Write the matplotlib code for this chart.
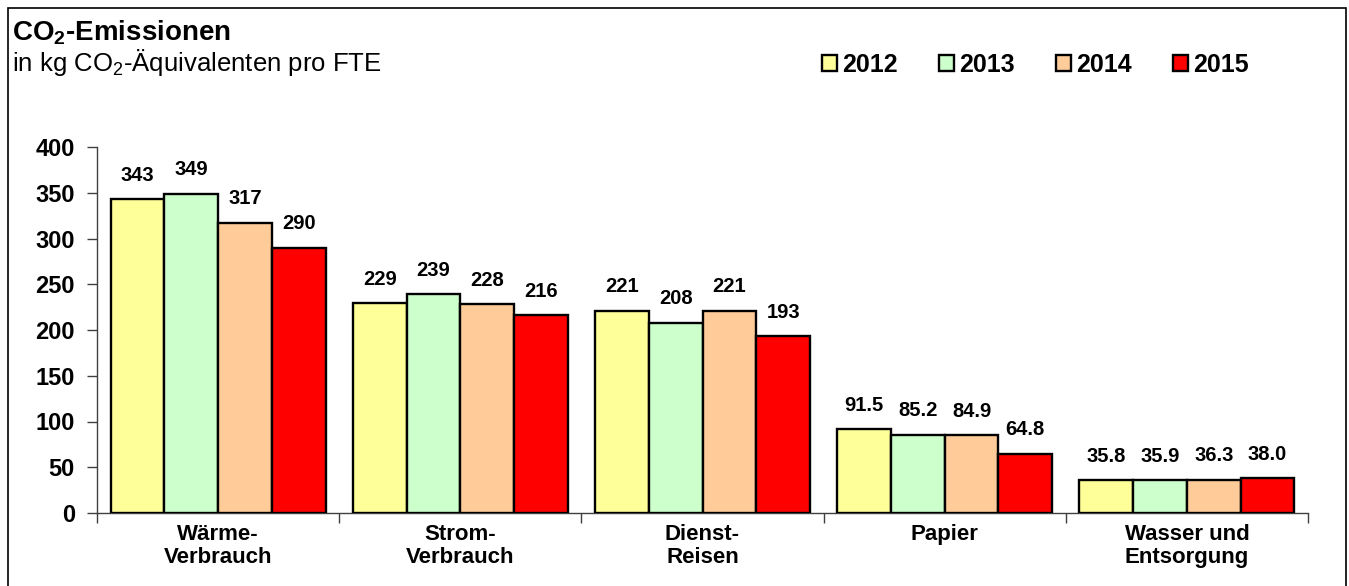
import matplotlib
matplotlib.use("Agg")
import matplotlib.pyplot as plt
from matplotlib.patches import Patch, Rectangle
import numpy as np

categories = ["Wärme-\nVerbrauch", "Strom-\nVerbrauch", "Dienst-\nReisen", "Papier", "Wasser und\nEntsorgung"]
years = ["2012", "2013", "2014", "2015"]
v2012 = [343, 229, 221, 91.5, 35.8]
v2013 = [349, 239, 208, 85.2, 35.9]
v2014 = [317, 228, 221, 84.9, 36.3]
v2015 = [290, 216, 193, 64.8, 38.0]
labels2012 = ["343", "229", "221", "91.5", "35.8"]
labels2013 = ["349", "239", "208", "85.2", "35.9"]
labels2014 = ["317", "228", "221", "84.9", "36.3"]
labels2015 = ["290", "216", "193", "64.8", "38.0"]
yticks = [0, 50, 100, 150, 200, 250, 300, 350, 400]

series = [v2012, v2013, v2014, v2015]
series_labels = [labels2012, labels2013, labels2014, labels2015]
colors = ["#FFFF99", "#CCFFCC", "#FFCC99", "#FF0000"]

plt.rcParams['font.family'] = ['Liberation Sans', 'DejaVu Sans']

fig = plt.figure(figsize=(13.49, 5.86), dpi=100)
ax = fig.add_axes([97/1349, 73/586, (1308-97)/1349, (513-147)/586])

n = len(categories)
x = np.arange(n)
w = 0.222
offsets = (np.arange(4) - 1.5) * w
for i, (vals, labs) in enumerate(zip(series, series_labels)):
    bars = ax.bar(x + offsets[i], vals, width=w, color=colors[i], edgecolor="black",
                  linewidth=1.7, zorder=3)
    for b, lab in zip(bars, labs):
        ax.annotate(lab, (b.get_x() + b.get_width()/2, b.get_height()),
                    xytext=(0, 10.5), textcoords="offset points", ha="center", va="bottom",
                    fontsize=14.5, fontweight="bold")

ax.set_xlim(-0.5, n - 0.5)
ax.set_ylim(0, 400)
ax.set_yticks(yticks)
ax.set_yticklabels([str(t) for t in yticks], fontsize=17, fontweight="bold")
ax.tick_params(axis="y", direction="out", length=7, width=1, color="#404040", pad=9)

ax.set_xticks(np.arange(n + 1) - 0.5)
ax.set_xticklabels([])
ax.tick_params(axis="x", which="major", direction="out", length=7, width=1, color="#404040")
ax.set_xticks(x, minor=True)
ax.set_xticklabels(categories, minor=True, fontsize=16, fontweight="bold", linespacing=1.1)
ax.tick_params(axis="x", which="minor", length=0, pad=8)

for s in ["top", "right"]:
    ax.spines[s].set_visible(False)
for s in ["left", "bottom"]:
    ax.spines[s].set_color("#404040")
    ax.spines[s].set_linewidth(1)

fig.text(12/1349, 1 - 33/586, "CO$_\\mathregular{2}$-Emissionen", fontsize=20, fontweight="bold",
         va="center", ha="left")
fig.text(12/1349, 1 - 62/586, "in kg CO$_\\mathregular{2}$-Äquivalenten pro FTE", fontsize=18.5,
         va="center", ha="left")

handles = [Patch(facecolor=c, edgecolor="black", linewidth=1.7) for c in colors]
fig.legend(handles, years, loc="center left", bbox_to_anchor=(822/1349, 1 - 65/586),
           ncol=4, frameon=False, handlelength=0.6, handleheight=0.6, handletextpad=0.2,
           columnspacing=1.65, borderaxespad=0, borderpad=0,
           prop={'family': ['Liberation Sans', 'DejaVu Sans'], 'weight': 'bold', 'size': 18})

fig.patches.append(Rectangle((8/1349, -0.02), (1346-8)/1349, 1 - 8/586 + 0.02,
                             transform=fig.transFigure, fill=False, edgecolor="black",
                             linewidth=1.2))

fig.savefig("out.png", dpi=100)
